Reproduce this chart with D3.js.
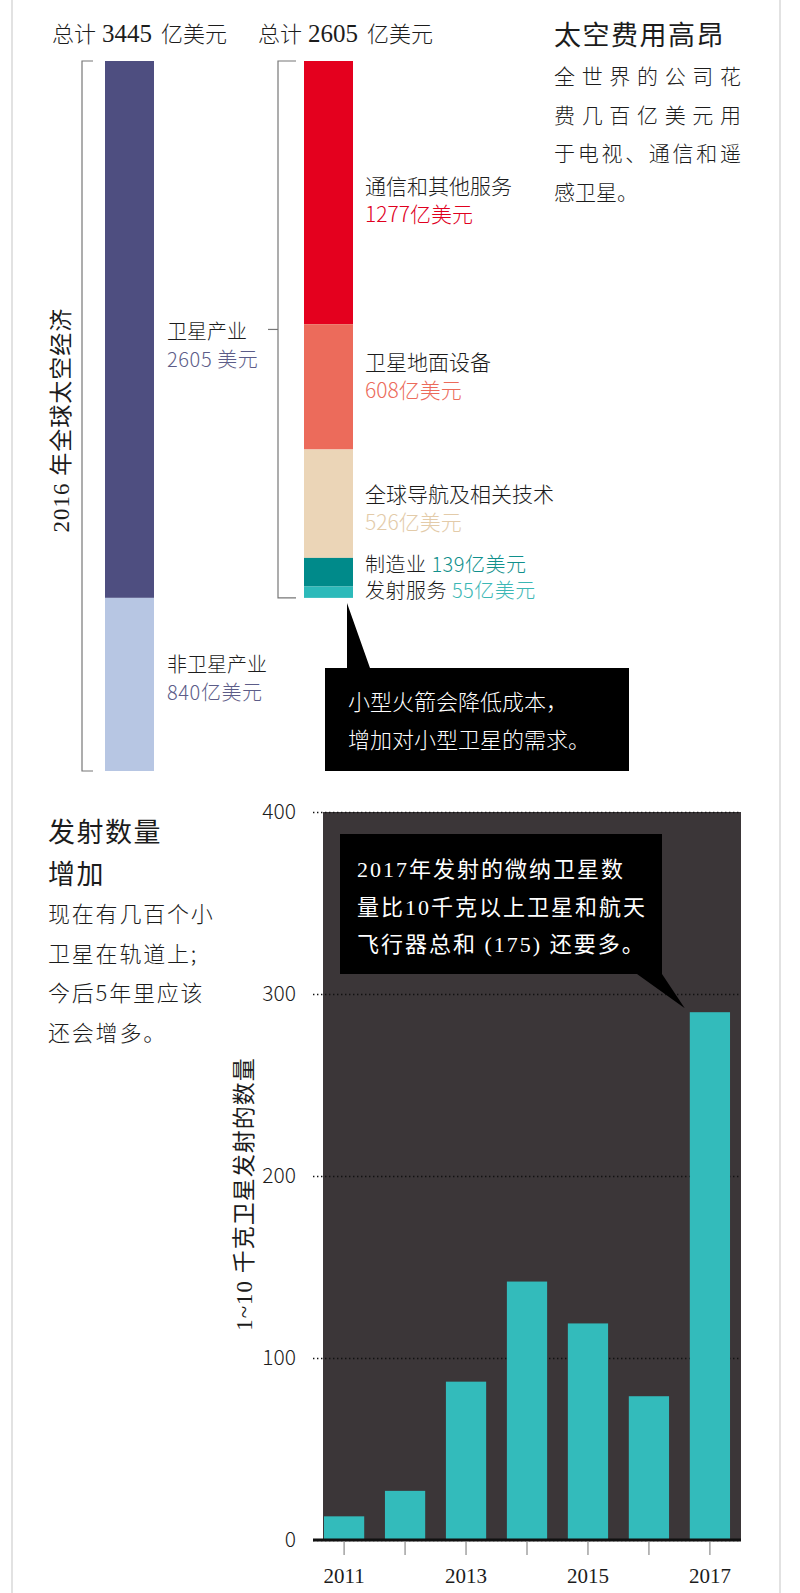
<!DOCTYPE html>
<html>
<head>
<meta charset="utf-8">
<script src="https://cdn.jsdelivr.net/npm/d3@7"></script>
<style>
  body { margin: 0; background: #fff; }
</style>
</head>
<body>
<div id="chart"></div>
<script>
// data
const economyLabels = ["卫星产业", "非卫星产业"];
const economyValues = [2605, 840];            // 亿美元
const industryLabels = ["通信和其他服务", "卫星地面设备", "全球导航及相关技术", "制造业", "发射服务"];
const industryValues = [1277, 608, 526, 139, 55];
const years = [2011, 2012, 2013, 2014, 2015, 2016, 2017];
const launches = [13, 27, 87, 142, 119, 79, 290];
const yTicks = [0, 100, 200, 300, 400];
const yearLabels = [2011, 2013, 2015, 2017];

const SANS = "'Noto Sans CJK SC', 'Noto Sans', sans-serif";
const SERIF = "'Liberation Serif', 'Noto Sans CJK SC', serif";
const INK = "#1c1c1c";

const econColors = ["#4e4e80", "#b7c6e3"];
const econText = "#5c5c88";
const indColors = ["#e4001e", "#ec6b5b", "#ebd5b7", "#008a8a", "#2cbaba"];
const indText = ["#e0001e", "#ec6b5b", "#e3cba9", "#10908c", "#3bb7b5"];

const svg = d3.select("#chart")
    .append("svg")
    .attr("width", 800)
    .attr("height", 1593);

svg.append("rect").attr("width", 800).attr("height", 1593).attr("fill", "#fff");

// page side rules
svg.selectAll(".side")
    .data([12, 780])
    .join("line")
    .attr("x1", d => d).attr("x2", d => d)
    .attr("y1", 0).attr("y2", 1593)
    .attr("stroke", "#e2e2e2")
    .attr("stroke-width", 2);

// ---------- stacked bars ----------
const econTotal = d3.sum(economyValues);
const indTotal = d3.sum(industryValues);
const yStack = d3.scaleLinear().domain([0, econTotal]).range([61, 771]);

function header(x, total) {
    const t = svg.append("text")
        .attr("x", x).attr("y", 42)
        .attr("font-family", SANS).attr("font-weight", 300)
        .attr("font-size", 22).attr("fill", INK);
    t.append("tspan").text("总计");
    t.append("tspan").attr("dx", 6).attr("font-family", SERIF).attr("font-size", 25).text(total);
    t.append("tspan").attr("dx", 9).text("亿美元");
}
header(52, econTotal);
header(258, indTotal);

function stackBar(values, colors, x, w) {
    const starts = [0, ...d3.cumsum(values)];
    svg.append("g")
        .selectAll("rect")
        .data(values)
        .join("rect")
        .attr("x", x)
        .attr("width", w)
        .attr("y", (d, i) => yStack(starts[i]))
        .attr("height", (d, i) => yStack(starts[i + 1]) - yStack(starts[i]))
        .attr("fill", (d, i) => colors[i]);
    return starts;
}
const econStarts = stackBar(economyValues, econColors, 105, 49);
const indStarts = stackBar(industryValues, indColors, 304, 49);

function bracket(x, v0, v1, len) {
    svg.append("path")
        .attr("d", `M${x + len},${yStack(v0)} H${x} V${yStack(v1)} H${x + len}`)
        .attr("fill", "none")
        .attr("stroke", "#777")
        .attr("stroke-width", 1.2);
}
bracket(82, 0, econTotal, 11);
bracket(278, 0, indTotal, 18);

// tick joining the satellite bracket to its label
const satMid = (yStack(0) + yStack(indTotal)) / 2;
svg.append("line")
    .attr("x1", 268).attr("x2", 278)
    .attr("y1", satMid).attr("y2", satMid)
    .attr("stroke", "#777").attr("stroke-width", 1.2);

// economy labels
const econLabelY = [satMid + 10, (yStack(econStarts[1]) + yStack(econStarts[2])) / 2 - 12];
const econValueText = ["2605 美元", "840亿美元"];
economyLabels.forEach((lab, i) => {
    svg.append("text")
        .attr("x", 167).attr("y", econLabelY[i])
        .attr("font-family", SANS).attr("font-weight", 300)
        .attr("font-size", 20).attr("fill", INK)
        .text(lab);
    svg.append("text")
        .attr("x", 167).attr("y", econLabelY[i] + 28)
        .attr("font-family", SANS).attr("font-weight", 300)
        .attr("font-size", 20).attr("letter-spacing", 0.6).attr("fill", econText)
        .text(econValueText[i]);
});

// industry labels: the three big ones stacked, the two thin ones inline
const shift = [7, -11, 4];
industryLabels.forEach((lab, i) => {
    const mid = (yStack(indStarts[i]) + yStack(indStarts[i + 1])) / 2;
    if (i < 3) {
        svg.append("text")
            .attr("x", 365).attr("y", mid - 6 + shift[i])
            .attr("font-family", SANS).attr("font-weight", 300)
            .attr("font-size", 21).attr("fill", INK)
            .text(lab);
        svg.append("text")
            .attr("x", 365).attr("y", mid + 22 + shift[i])
            .attr("font-family", SANS).attr("font-weight", 300)
            .attr("font-size", 21).attr("fill", indText[i])
            .text(industryValues[i] + "亿美元");
    } else {
        const t = svg.append("text")
            .attr("x", 365).attr("y", i === 3 ? mid : mid + 6)
            .attr("font-family", SANS).attr("font-weight", 300)
            .attr("font-size", 20).attr("letter-spacing", 0.5).attr("fill", INK);
        t.append("tspan").text(lab + " ");
        t.append("tspan").attr("fill", indText[i]).text(industryValues[i] + "亿美元");
    }
});

// vertical title
svg.append("text")
    .attr("transform", `translate(61,${(yStack(0) + yStack(econTotal)) / 2 + 4}) rotate(-90)`)
    .attr("text-anchor", "middle")
    .attr("dominant-baseline", "central")
    .attr("font-family", SERIF)
    .attr("font-size", 23)
    .attr("letter-spacing", 1)
    .attr("fill", INK)
    .text("2016 年全球太空经济");

// top-right intro
svg.append("text")
    .attr("x", 554).attr("y", 45)
    .attr("font-family", SANS).attr("font-size", 27)
    .attr("letter-spacing", 1.5).attr("fill", INK)
    .text("太空费用高昂");
const introLines = ["全世界的公司花", "费几百亿美元用", "于电视、通信和遥", "感卫星。"];
introLines.forEach((line, i) => {
    const t = svg.append("text")
        .attr("x", 554).attr("y", 84 + i * 38.5)
        .attr("font-family", SANS).attr("font-weight", 300)
        .attr("font-size", 21).attr("fill", INK)
        .text(line);
    if (i < 3) t.attr("textLength", 187).attr("lengthAdjust", "spacing");
});

// callout under the bars
const c1Apex = [304 + 43, yStack(indTotal) + 5];
svg.append("path")
    .attr("d", `M${c1Apex[0]},${c1Apex[1]} L370,668 H629 V771 H325 V668 H${c1Apex[0]} Z`)
    .attr("fill", "#000");
["小型火箭会降低成本，", "增加对小型卫星的需求。"].forEach((line, i) => {
    svg.append("text")
        .attr("x", 348).attr("y", 710 + i * 38)
        .attr("font-family", SANS).attr("font-weight", 300)
        .attr("font-size", 22).attr("fill", "#fff")
        .text(line);
});

// ---------- launches bar chart ----------
const x = d3.scaleBand()
    .domain(years)
    .range([313, 741])
    .paddingInner(0.34)
    .paddingOuter(0.18);
const y = d3.scaleLinear().domain([0, 400]).range([1540, 812]);

svg.append("rect")
    .attr("x", 323).attr("y", y(400))
    .attr("width", 741 - 323).attr("height", y(0) - y(400))
    .attr("fill", "#3b3638");

const yAxis = svg.append("g")
    .attr("transform", "translate(313,0)")
    .call(d3.axisLeft(y).tickValues(yTicks).tickSizeInner(-(741 - 313)).tickSizeOuter(0).tickPadding(17));
yAxis.select(".domain").remove();
yAxis.selectAll(".tick line")
    .attr("stroke", "#111")
    .attr("stroke-width", 1.4)
    .attr("stroke-dasharray", "1.4,2.6");
yAxis.selectAll(".tick text")
    .attr("font-family", SANS).attr("font-weight", 300)
    .attr("font-size", 21).attr("fill", INK);

svg.append("g")
    .selectAll("rect")
    .data(launches)
    .join("rect")
    .attr("x", (d, i) => x(years[i]))
    .attr("width", x.bandwidth())
    .attr("y", d => y(d))
    .attr("height", d => y(0) - y(d))
    .attr("fill", "#33bbbb");

// baseline
svg.append("line")
    .attr("x1", 313).attr("x2", 741)
    .attr("y1", y(0)).attr("y2", y(0))
    .attr("stroke", "#111").attr("stroke-width", 3);

const xAxis = svg.append("g")
    .attr("transform", `translate(0,${y(0) + 1})`)
    .call(d3.axisBottom(x).tickSize(14).tickPadding(13)
        .tickFormat(d => yearLabels.includes(d) ? d : ""));
xAxis.select(".domain").remove();
xAxis.selectAll(".tick line").attr("stroke", "#8a8a8a").attr("stroke-width", 1.2);
xAxis.selectAll(".tick text")
    .attr("font-family", SERIF).attr("font-size", 21).attr("fill", INK);

// y title
svg.append("text")
    .attr("transform", "translate(244,1194) rotate(-90)")
    .attr("text-anchor", "middle")
    .attr("dominant-baseline", "central")
    .attr("font-family", SERIF)
    .attr("font-size", 23)
    .attr("letter-spacing", 1)
    .attr("fill", INK)
    .text("1~10 千克卫星发射的数量");

// left intro for the launches
["发射数量", "增加"].forEach((line, i) => {
    svg.append("text")
        .attr("x", 48).attr("y", 842 + i * 42)
        .attr("font-family", SANS).attr("font-size", 27)
        .attr("letter-spacing", 1.5).attr("fill", INK)
        .text(line);
});
["现在有几百个小", "卫星在轨道上;", "今后5年里应该", "还会增多。"].forEach((line, i) => {
    svg.append("text")
        .attr("x", 48).attr("y", 922 + i * 39.5)
        .attr("font-family", SANS).attr("font-weight", 300)
        .attr("font-size", 22).attr("letter-spacing", 1.8).attr("fill", INK)
        .text(line);
});

// callout over the chart, pointing at 2017
const c2Apex = [x(2017) - 5, y(launches[6]) - 4];
svg.append("path")
    .attr("d", `M340,834 H662 V974 L${c2Apex[0]},${c2Apex[1]} L637,974 H340 Z`)
    .attr("fill", "#000");
["2017年发射的微纳卫星数", "量比10千克以上卫星和航天", "飞行器总和 (175) 还要多。"].forEach((line, i) => {
    svg.append("text")
        .attr("x", 357).attr("y", 877 + i * 37.5)
        .attr("font-family", SERIF)
        .attr("font-size", 22).attr("letter-spacing", 2)
        .attr("fill", "#fff")
        .text(line);
});
</script>
</body>
</html>
